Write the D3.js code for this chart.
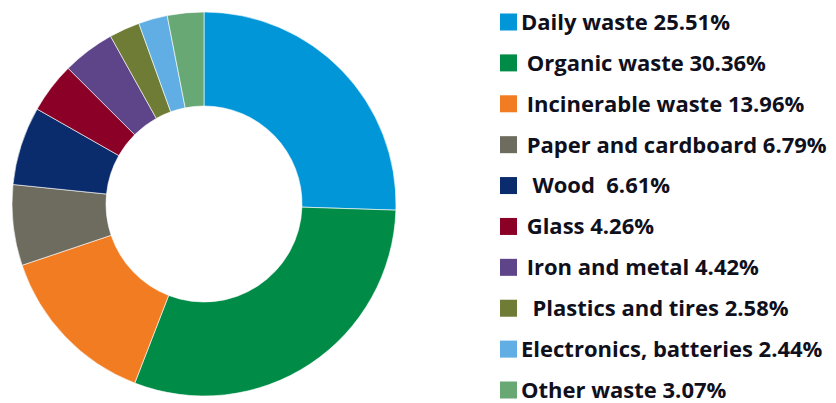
<!DOCTYPE html>
<html><head><meta charset="utf-8">
<script src="https://cdn.jsdelivr.net/npm/d3@7"></script>
<style>
html,body{margin:0;padding:0;background:#fff;}
svg{display:block;}
text{white-space:pre;}
</style></head>
<body>
<svg id="chart" width="836" height="403"></svg>
<script>
const categories = ["Daily waste","Organic waste","Incinerable waste","Paper and cardboard","Wood","Glass","Iron and metal","Plastics and tires","Electronics, batteries","Other waste"];
const values = [25.51,30.36,13.96,6.79,6.61,4.26,4.42,2.58,2.44,3.07];
const legendLabels = ["Daily waste 25.51%"," Organic waste 30.36%"," Incinerable waste 13.96%"," Paper and cardboard 6.79%","  Wood  6.61%"," Glass 4.26%"," Iron and metal 4.42%","  Plastics and tires 2.58%","Electronics, batteries 2.44%","Other waste 3.07%"];
const colors = ["#0096D8","#008C47","#F27C22","#6E6C5E","#0A2C6C","#8A0026","#5E4488","#6F7C36","#60AEE3","#67A875"];

const svg = d3.select("#chart");
const cx = 204, cy = 204, rOuter = 192, rInner = 98;

const pie = d3.pie().value(d => d).sort(null);
const arc = d3.arc().innerRadius(rInner).outerRadius(rOuter);
const color = d3.scaleOrdinal().domain(categories).range(colors);

svg.append("g").attr("transform", `translate(${cx},${cy})`)
  .selectAll("path").data(pie(values)).join("path")
  .attr("d", arc)
  .attr("fill", (d,i) => color(categories[i]))
  .attr("stroke", "#fff").attr("stroke-width", 0.6);

const y = d3.scalePoint().domain(categories).range([22, 390]);
const lg = svg.append("g");
const row = lg.selectAll("g").data(categories).join("g")
  .attr("transform", d => `translate(500,${y(d)})`);
row.append("rect").attr("x", 0).attr("y", -8.5).attr("width", 17).attr("height", 17)
  .attr("fill", d => color(d));
row.append("text").attr("x", 21).attr("y", 0).attr("dy", "0.36em")
  .attr("font-family", "'Open Sans', sans-serif")
  .attr("font-weight", 700).attr("font-size", 22)
  .attr("fill", "#10101c")
  .text((d,i) => legendLabels[i]);
</script>
</body></html>
